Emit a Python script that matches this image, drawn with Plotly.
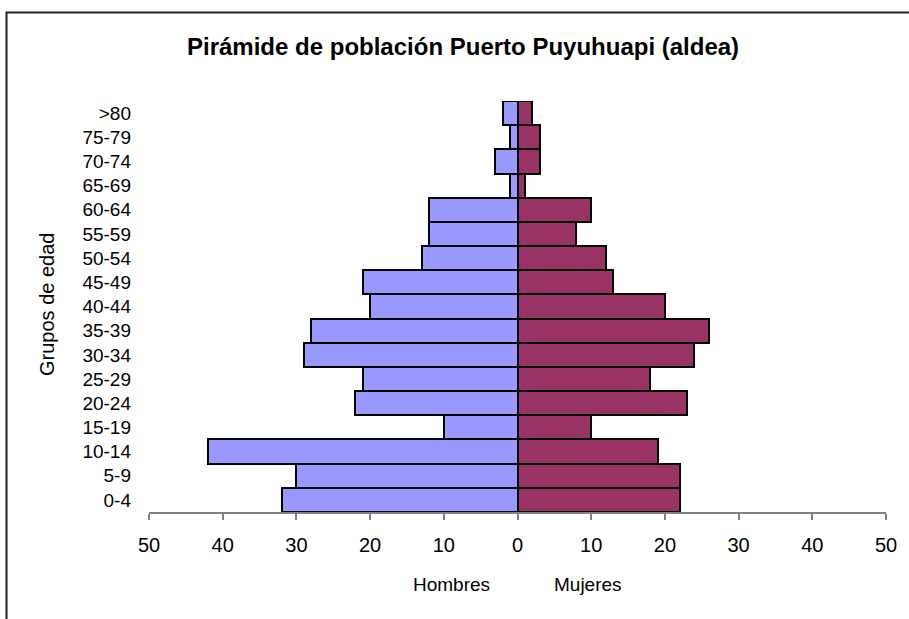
import plotly.graph_objects as go

age_groups = ["0-4", "5-9", "10-14", "15-19", "20-24", "25-29", "30-34", "35-39",
              "40-44", "45-49", "50-54", "55-59", "60-64", "65-69", "70-74", "75-79", ">80"]
hombres = [32, 30, 42, 10, 22, 21, 29, 28, 20, 21, 13, 12, 12, 1, 3, 1, 2]
mujeres = [22, 22, 19, 10, 23, 18, 24, 26, 20, 13, 12, 8, 10, 1, 3, 3, 2]
x_ticks = [-50, -40, -30, -20, -10, 0, 10, 20, 30, 40, 50]
x_tick_text = [str(abs(v)) for v in x_ticks]

title_text = "Pirámide de población Puerto Puyuhuapi (aldea)"
y_title = "Grupos de edad"
label_h = "Hombres"
label_m = "Mujeres"

FONT = "Arial, Liberation Sans, sans-serif"

W, H = 909, 619
L, R, T, B = 149, 909 - 886, 101, 619 - 512
pw, ph = W - L - R, H - T - B


def px(xp):
    return (xp - L) / pw


def py(yp):
    return (H - B - yp) / ph


fig = go.Figure()
fig.add_trace(go.Bar(
    y=age_groups, x=[-v for v in hombres], orientation="h", name=label_h,
    marker=dict(color="#9999FF", line=dict(color="black", width=2)),
))
fig.add_trace(go.Bar(
    y=age_groups, x=mujeres, orientation="h", name=label_m,
    marker=dict(color="#993366", line=dict(color="black", width=2)),
))

fig.update_layout(
    width=W, height=H,
    margin=dict(l=L, r=R, t=T, b=B),
    barmode="relative", bargap=0,
    plot_bgcolor="white", paper_bgcolor="white",
    showlegend=False,
    font=dict(family=FONT, color="black", size=19),
    xaxis=dict(
        range=[-50, 50], tickvals=x_ticks, ticktext=x_tick_text,
        showgrid=False, zeroline=False,
        showline=True, linecolor="#808080", linewidth=1.5,
        ticks="outside", ticklen=6, tickcolor="#808080", tickwidth=1.5,
        tickfont=dict(size=20), ticklabelstandoff=8,
    ),
    yaxis=dict(
        categoryorder="array", categoryarray=age_groups,
        showgrid=False, zeroline=False, showline=False, ticks="",
        tickfont=dict(size=19), ticklabelstandoff=17,
    ),
    annotations=[
        dict(text="<b>" + title_text + "</b>", xref="paper", yref="paper",
             x=px(463), y=py(46), xanchor="center", yanchor="middle",
             showarrow=False, font=dict(size=24)),
        dict(text=y_title, xref="paper", yref="paper", x=px(47), y=py(305),
             xanchor="center", yanchor="middle", textangle=-90,
             showarrow=False, font=dict(size=20)),
        dict(text=label_h, xref="paper", yref="paper", x=px(451), y=py(584),
             xanchor="center", yanchor="middle", showarrow=False,
             font=dict(size=19)),
        dict(text=label_m, xref="paper", yref="paper", x=px(588), y=py(584),
             xanchor="center", yanchor="middle", showarrow=False,
             font=dict(size=19)),
    ],
    shapes=[
        dict(type="rect", xref="paper", yref="paper",
             x0=px(6.5), x1=px(930), y0=py(640), y1=py(12.5),
             line=dict(color="#222222", width=2), fillcolor="rgba(0,0,0,0)",
             layer="below"),
    ],
)

fig.write_html(
    "out.html",
    config={"displayModeBar": False},
    post_script="document.body.style.margin='0px';document.body.style.padding='0px';document.body.style.overflow='hidden';",
)
